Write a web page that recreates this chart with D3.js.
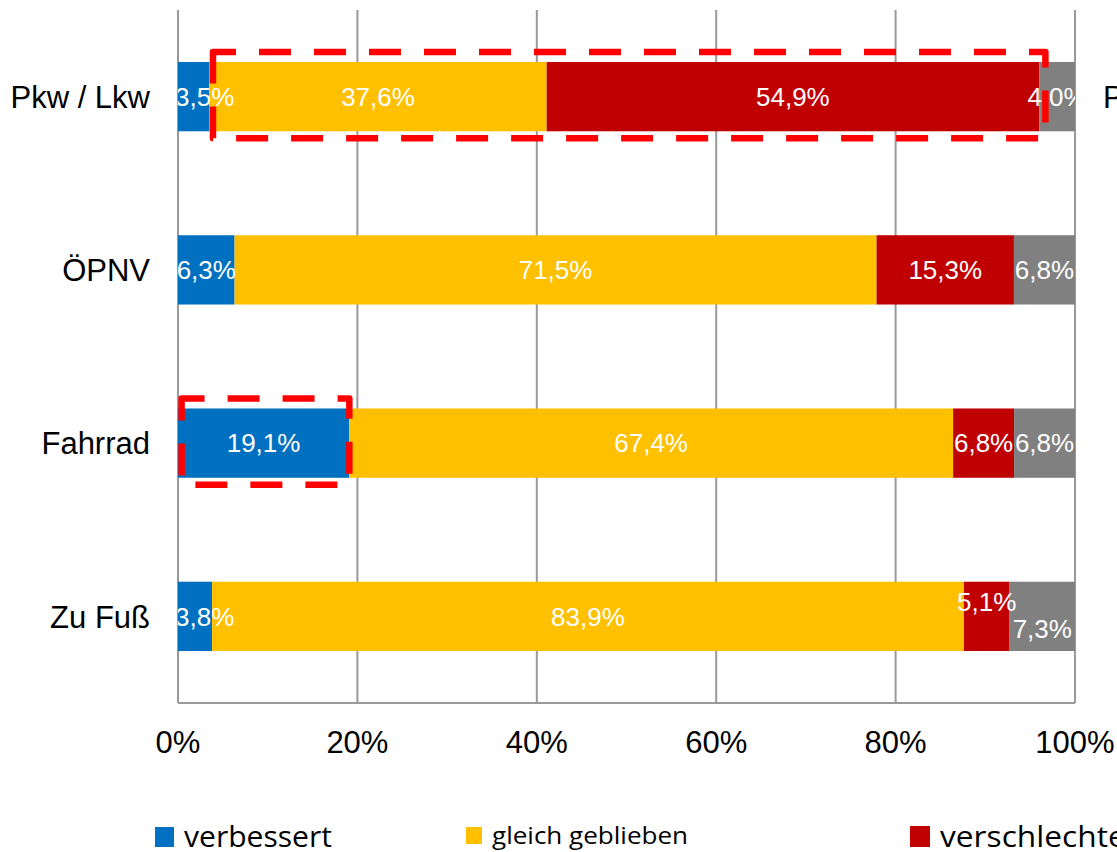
<!DOCTYPE html>
<html>
<head>
<meta charset="utf-8">
<script src="https://cdn.jsdelivr.net/npm/d3@7"></script>
<style>
  body { margin: 0; background: #fff; overflow: hidden; }
  svg { display: block; }
</style>
</head>
<body>
<div id="chart"></div>
<script>
// data (percent per mode)
const categories = ["Pkw / Lkw", "ÖPNV", "Fahrrad", "Zu Fuß"];
const seriesNames = ["verbessert", "gleich geblieben", "verschlechtert", "keine Angabe"];
const verbessert = [3.5, 6.3, 19.1, 3.8];
const gleich = [37.6, 71.5, 67.4, 83.9];
const verschlechtert = [54.9, 15.3, 6.8, 5.1];
const keineAngabe = [4.0, 6.8, 6.8, 7.3];
const tickValues = [0, 20, 40, 60, 80, 100];
// highlighted ranges (category, from %, to %)
const highlights = [["Pkw / Lkw", 3.9, 96.7], ["Fahrrad", 0.4, 19.1]];

const colors = ["#0070C0", "#FFC000", "#C00000", "#808080"];
const W = 1117, H = 852;
const margin = {left: 178, right: 42, top: 10, bottom: 149};
const font = "'Liberation Sans', Arial, sans-serif";

const svg = d3.select("#chart").append("svg")
  .attr("width", W).attr("height", H);

const x = d3.scaleLinear().domain([0, 100]).range([margin.left, W - margin.right]);
const y = d3.scaleBand().domain(categories)
  .range([margin.top, H - margin.bottom])
  .paddingInner(0.6).paddingOuter(0.3);

// build stacked rows, normalised to 100 %
const rows = categories.map((c, i) => {
  const vals = [verbessert[i], gleich[i], verschlechtert[i], keineAngabe[i]];
  const total = d3.sum(vals);
  let acc = 0;
  return vals.map((v, k) => {
    const seg = {cat: c, k: k, v: v, x0: acc / total * 100, x1: (acc + v) / total * 100};
    acc += v;
    return seg;
  });
});

// gridlines
svg.append("g").selectAll("line").data(tickValues).enter().append("line")
  .attr("x1", d => x(d)).attr("x2", d => x(d))
  .attr("y1", margin.top).attr("y2", H - margin.bottom)
  .style("stroke", "#999").style("stroke-width", 2);
svg.append("line")
  .attr("x1", x(0)).attr("x2", x(100))
  .attr("y1", H - margin.bottom).attr("y2", H - margin.bottom)
  .style("stroke", "#999").style("stroke-width", 2);

// bars
const segs = rows.flat();
svg.append("g").selectAll("rect").data(segs).enter().append("rect")
  .attr("x", d => x(d.x0))
  .attr("width", d => x(d.x1) - x(d.x0))
  .attr("y", d => y(d.cat))
  .attr("height", y.bandwidth())
  .style("fill", d => colors[d.k]);

// value labels, clipped to the plot area
svg.append("clipPath").attr("id", "plotclip").append("rect")
  .attr("x", x(0)).attr("y", 0).attr("width", x(100) - x(0)).attr("height", H);
const labelG = svg.append("g").attr("clip-path", "url(#plotclip)");
rows.forEach(row => {
  const texts = row.map(d => {
    const t = labelG.append("text")
      .text(d3.format(".1f")(d.v).replace(".", ",") + "%")
      .attr("text-anchor", "middle")
      .attr("font-family", font)
      .attr("font-size", "26px")
      .attr("fill", "white");
    const w = t.node().getComputedTextLength();
    let cx = (x(d.x0) + x(d.x1)) / 2;
    if (cx - w / 2 < x(0) - 3) cx = x(0) - 3 + w / 2;
    return {t: t, cx: cx, w: w, dy: 0, d: d};
  });
  // push overlapping neighbours apart vertically
  for (let i = 1; i < texts.length; i++) {
    const a = texts[i - 1], b = texts[i];
    if (b.cx - b.w / 2 < a.cx + a.w / 2 - 2) {
      a.dy = -15;
      b.dy = 12;
    }
  }
  texts.forEach(o => {
    o.t.attr("x", o.cx)
      .attr("y", y(o.d.cat) + y.bandwidth() / 2 + o.dy)
      .attr("dy", "0.36em");
  });
});

// category labels
svg.append("g").selectAll("text").data(categories).enter().append("text")
  .text(d => d)
  .attr("x", 150)
  .attr("y", d => y(d) + y.bandwidth() / 2)
  .attr("dy", "0.36em")
  .attr("text-anchor", "end")
  .attr("font-family", font)
  .attr("font-size", "31px")
  .attr("fill", "black");
// secondary category label, cut by the page edge
svg.append("text")
  .text(categories[0])
  .attr("x", 1103)
  .attr("y", y(categories[0]) + y.bandwidth() / 2)
  .attr("dy", "0.36em")
  .attr("font-family", font)
  .attr("font-size", "31px")
  .attr("fill", "black");

// x tick labels
svg.append("g").selectAll("text").data(tickValues).enter().append("text")
  .text(d => d + "%")
  .attr("x", d => x(d))
  .attr("y", 753)
  .attr("text-anchor", "middle")
  .attr("font-family", font)
  .attr("font-size", "31px")
  .attr("fill", "black");

// highlight boxes
highlights.forEach(h => {
  const x0 = x(h[1]), x1 = x(h[2]);
  const y0 = y(h[0]) - 10, y1 = y(h[0]) + y.bandwidth() + 7;
  svg.append("path")
    .attr("d", `M${x0},${y0 + 9} V${y0} H${x1} V${y1} H${x0} Z`)
    .style("fill", "none")
    .style("stroke", "#FF0000")
    .style("stroke-width", 6.5)
    .style("stroke-dasharray", "32,23")
    .style("stroke-linejoin", "round");
});

// legend
const legendX = [155, 466, 910, 1300];
const legendSize = [20, 17, 21, 20];
const legendFont = [29, 23, 30, 29];
const legendLen = [148, 196, 210, 180];
const legend = svg.append("g").selectAll("g").data(seriesNames).enter().append("g")
  .attr("transform", (d, i) => `translate(${legendX[i]},0)`);
legend.append("rect")
  .attr("x", 0)
  .attr("y", (d, i) => 847 - legendSize[i] - (i === 1 ? 3 : 0))
  .attr("width", (d, i) => legendSize[i] - 1)
  .attr("height", (d, i) => legendSize[i])
  .style("fill", (d, i) => colors[i]);
legend.append("text")
  .text(d => d)
  .attr("x", (d, i) => legendSize[i] + 9)
  .attr("y", (d, i) => i === 1 ? 844 : 847)
  .attr("font-family", "'Open Sans', 'Noto Sans', sans-serif")
  .attr("font-size", (d, i) => legendFont[i] + "px")
  .attr("textLength", (d, i) => legendLen[i])
  .attr("lengthAdjust", "spacingAndGlyphs")
  .attr("fill", "black");
</script>
</body>
</html>
